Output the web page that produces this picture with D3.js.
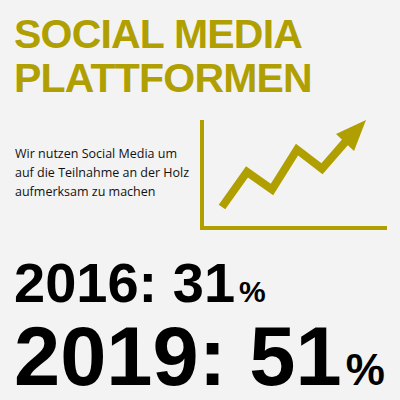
<!DOCTYPE html><html><head><meta charset="utf-8"><script src="https://d3js.org/d3.v7.min.js"></script>
<style>body{margin:0;background:#f3f3f3}svg{display:block}</style></head><body><svg width="400" height="400"></svg>
<script>
const titleLines=["SOCIAL MEDIA","PLATTFORMEN"];
const textLines=["Wir nutzen Social Media um","auf die Teilnahme an der Holz","aufmerksam zu machen"];
const years=["2016","2019"];
const values=[31,51];
const trendX=[0,1,2,3,4,5];
const trendY=[0,2.2,1.1,3.6,2.4,4.2];
const olive="#b09f00";
const svg=d3.select("svg");
svg.append("rect").attr("width",400).attr("height",400).attr("fill","#f3f3f3");
svg.selectAll(".t").data(titleLines).join("text").attr("x",14).attr("y",(d,i)=>48+i*44)
 .attr("font-family","Liberation Sans, Arial").attr("font-weight","bold").attr("font-size",41).attr("fill",olive).attr("letter-spacing",-0.8).text(d=>d);
svg.selectAll(".b").data(textLines).join("text").attr("x",15).attr("y",(d,i)=>158+i*19)
 .attr("font-family","Open Sans").attr("font-size",12.5).attr("fill","#111").text(d=>d);
const x=d3.scaleLinear().domain([0,5]).range([222,347]);
const y=d3.scaleLinear().domain([0,4.2]).range([207,140]);
const g=svg.append("g");
g.append("path").attr("d","M202,120V228H387").attr("fill","none").attr("stroke",olive).attr("stroke-width",4);
g.append("path").attr("d",d3.line().x((d,i)=>x(trendX[i])).y(d=>y(d))(trendY))
 .attr("fill","none").attr("stroke",olive).attr("stroke-width",8);
g.append("path").attr("d","M336,134L366,120L354,151Z").attr("fill",olive);
const sizes=[56,83],bases=[302,385],pct=[30,44];
years.forEach((yr,i)=>{
 const t=svg.append("text").attr("x",14).attr("y",bases[i]).attr("font-family","Liberation Sans, Arial").attr("font-weight","bold").attr("font-size",sizes[i]).attr("fill","#000");
 t.append("tspan").text(yr+": "+values[i]);
 t.append("tspan").attr("font-size",pct[i]).attr("dx",4).text("%");
});
</script></body></html>
